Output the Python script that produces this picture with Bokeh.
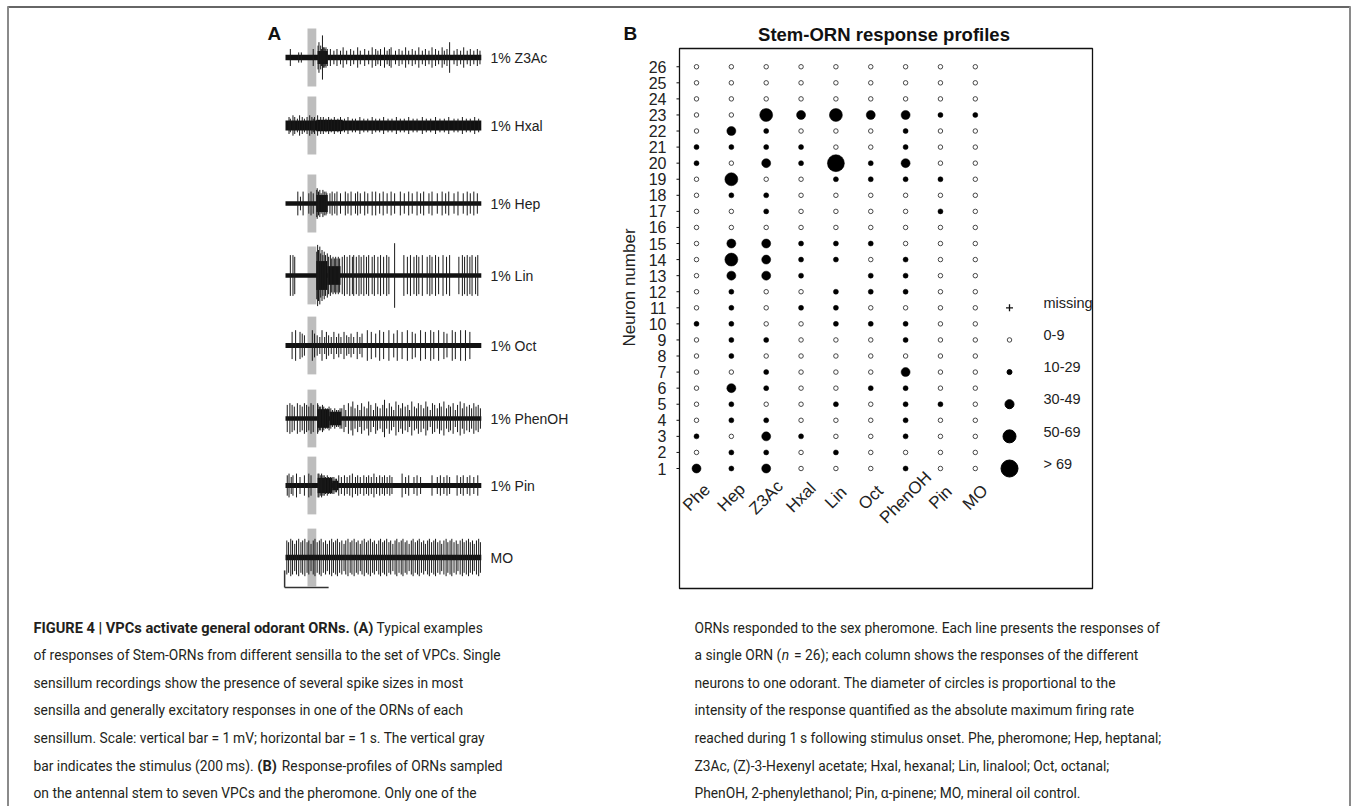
import math
from bokeh.plotting import figure
from bokeh.models import Range1d
from bokeh.core.properties import value
from bokeh.embed import file_html
from bokeh.resources import INLINE

# ============================ DATA ============================
# ---- Panel A : single-sensillum recordings ----
trace_labels = ["1% Z3Ac", "1% Hxal", "1% Hep", "1% Lin", "1% Oct", "1% PhenOH", "1% Pin", "MO"]
trace_duration_s = 4.45
stimulus_onset_s = 0.5
stimulus_duration_s = 0.2
scale_bar_mv = 1.0
scale_bar_s = 1.0
baseline_noise_mv = [0.16, 0.30, 0.13, 0.13, 0.15, 0.13, 0.14, 0.16]

# bursts: (start s, end s, half amplitude mV)
bursts_z3ac = [(0.73, 0.96, 0.38)]
bursts_hxal = [(0.70, 1.30, 0.34)]
bursts_hep = [(0.70, 0.96, 0.50)]
bursts_lin = [(0.70, 0.95, 0.85), (0.95, 1.25, 0.55)]
bursts_oct = []
bursts_phenoh = [(0.72, 1.00, 0.55), (1.00, 1.27, 0.40)]
bursts_pin = [(0.73, 1.06, 0.45), (1.06, 1.20, 0.28)]
bursts_mo = []

# spikes: (time s, amplitude in 0.1 mV)
spikes_z3ac = [(0.11, 5), (0.30, 3), (0.36, 3), (0.63, 5),
    (0.74, 7), (0.76, 9), (0.80, 7), (0.82, 5), (0.84, 13), (0.86, 6), (0.88, 6), (0.90, 5), (0.92, 6), (0.95, 5),
    (1.02, 5), (1.10, 4), (1.17, 5), (1.25, 4), (1.31, 6), (1.39, 4), (1.48, 5), (1.55, 4), (1.64, 6),
    (1.70, 4), (1.80, 5), (1.89, 4), (1.97, 6), (2.05, 5), (2.10, 4), (2.16, 5), (2.25, 6), (2.31, 4),
    (2.36, 5), (2.40, 6), (2.50, 4), (2.58, 5), (2.65, 4), (2.73, 6), (2.80, 4), (2.88, 5), (2.95, 4),
    (3.03, 6), (3.11, 4), (3.18, 5), (3.26, 4), (3.33, 6), (3.41, 5), (3.48, 4), (3.56, 6), (3.61, 4),
    (3.67, 5), (3.73, 9), (3.83, 4), (3.90, 5), (3.98, 4), (4.05, 6), (4.13, 4), (4.20, 5), (4.28, 4),
    (4.36, 5), (4.42, 4)]
spikes_hxal = [(0.08, 5), (0.11, 4), (0.17, 6), (0.21, 5), (0.27, 4), (0.32, 6), (0.38, 5), (0.43, 4),
    (0.49, 5), (0.55, 6), (0.60, 5), (0.63, 4), (0.66, 5),
    (0.73, 6), (0.80, 5), (0.86, 5), (0.92, 4), (0.98, 5), (1.04, 4), (1.11, 5), (1.19, 4), (1.25, 5),
    (1.34, 4), (1.42, 5), (1.52, 4), (1.59, 4), (1.69, 5), (1.78, 4), (1.87, 4), (1.97, 5), (2.05, 4),
    (2.14, 4), (2.23, 5), (2.33, 4), (2.42, 4), (2.52, 5), (2.61, 4), (2.70, 4), (2.80, 5), (2.90, 4),
    (2.99, 4), (3.11, 5), (3.20, 4), (3.30, 4), (3.41, 5), (3.51, 4), (3.61, 4), (3.71, 5), (3.83, 4),
    (3.92, 4), (4.02, 5), (4.11, 4), (4.20, 4), (4.30, 5), (4.39, 4)]
spikes_hep = [(0.28, 7), (0.34, 4), (0.40, 7), (0.53, 6), (0.58, 7), (0.63, 6),
    (0.71, 8), (0.72, 9), (0.75, 7), (0.78, 8), (0.81, 6), (0.85, 8), (0.88, 7), (0.92, 7), (0.94, 6),
    (1.01, 6), (1.06, 7), (1.12, 6), (1.17, 7), (1.25, 6), (1.36, 7), (1.42, 6), (1.49, 7), (1.59, 6),
    (1.64, 7), (1.70, 6), (1.80, 7), (1.87, 6), (1.97, 7), (2.05, 7), (2.14, 6), (2.22, 7), (2.31, 6),
    (2.40, 7), (2.48, 6), (2.61, 7), (2.70, 6), (2.80, 7), (2.88, 6), (2.99, 7), (3.07, 6), (3.14, 7),
    (3.26, 6), (3.33, 7), (3.45, 6), (3.56, 7), (3.64, 6), (3.71, 7), (3.83, 6), (3.92, 7), (4.04, 6),
    (4.13, 7), (4.20, 6), (4.28, 7), (4.36, 6)]
spikes_lin = [(0.11, 12), (0.17, 12), (0.21, 11),
    (0.71, 14), (0.73, 18), (0.75, 15), (0.78, 17), (0.80, 13), (0.83, 15), (0.85, 12), (0.88, 14),
    (0.91, 12), (0.95, 13), (0.98, 11), (1.02, 12), (1.05, 10), (1.08, 11), (1.11, 10), (1.14, 11),
    (1.17, 10), (1.20, 11), (1.23, 10),
    (1.29, 11), (1.34, 12), (1.40, 11), (1.46, 12), (1.52, 11), (1.55, 12), (1.61, 11), (1.67, 12),
    (1.72, 11), (1.78, 12), (1.84, 11), (1.89, 12), (1.97, 11), (2.02, 12), (2.10, 11), (2.16, 12),
    (2.23, 11), (2.30, 12), (2.35, 11), (2.48, 19), (2.69, 12), (2.77, 11), (2.84, 12), (2.92, 11),
    (2.98, 12), (3.03, 11), (3.11, 12), (3.22, 11), (3.28, 12), (3.33, 11), (3.41, 12), (3.48, 11),
    (3.58, 12), (3.66, 11), (3.73, 12), (3.94, 11), (4.02, 12), (4.07, 11), (4.13, 12), (4.19, 11),
    (4.24, 12), (4.32, 11), (4.37, 12)]
spikes_oct = [(0.15, 8), (0.23, 9), (0.33, 8), (0.38, 7), (0.43, 6), (0.61, 9), (0.66, 7),
    (0.72, 6), (0.78, 5), (0.83, 9), (0.89, 5), (0.93, 8), (0.98, 6), (1.04, 5), (1.10, 8), (1.16, 5),
    (1.21, 7), (1.26, 5), (1.33, 8), (1.39, 6), (1.44, 5), (1.49, 7), (1.55, 5), (1.63, 8), (1.69, 5),
    (1.74, 7), (1.86, 9), (1.95, 8), (2.05, 7), (2.14, 9), (2.23, 8), (2.35, 9), (2.46, 7), (2.54, 9),
    (2.65, 8), (2.77, 9), (2.88, 8), (2.95, 7), (3.07, 9), (3.18, 8), (3.30, 9), (3.37, 8), (3.48, 9),
    (3.60, 8), (3.67, 7), (3.79, 9), (3.86, 8), (3.98, 9), (4.09, 9), (4.19, 8)]
spikes_phenoh = [(0.04, 8), (0.10, 9), (0.15, 8), (0.20, 7), (0.27, 9), (0.33, 8), (0.38, 7), (0.43, 9),
    (0.48, 8), (0.53, 7), (0.58, 9), (0.63, 8),
    (0.73, 9), (0.74, 8), (0.77, 7), (0.80, 7), (0.84, 8), (0.87, 7), (0.91, 6), (0.95, 6), (0.99, 7),
    (1.03, 6), (1.07, 5), (1.12, 6), (1.16, 5), (1.20, 5), (1.24, 6),
    (1.28, 6), (1.33, 8), (1.37, 5), (1.43, 9), (1.49, 7), (1.53, 10), (1.58, 6), (1.64, 8), (1.69, 5),
    (1.73, 9), (1.79, 7), (1.85, 6), (1.89, 10), (1.94, 8), (2.00, 5), (2.05, 9), (2.09, 7), (2.15, 6),
    (2.21, 8), (2.25, 11), (2.30, 6), (2.36, 9), (2.41, 7), (2.46, 5), (2.51, 10), (2.57, 8), (2.62, 6),
    (2.66, 9), (2.72, 7), (2.78, 8), (2.82, 5), (2.87, 10), (2.93, 7), (2.98, 6), (3.02, 9), (3.08, 8),
    (3.14, 6), (3.19, 10), (3.23, 7), (3.29, 5), (3.34, 9), (3.39, 8), (3.45, 6), (3.50, 9), (3.54, 7),
    (3.60, 10), (3.66, 6), (3.71, 8), (3.75, 7), (3.81, 9), (3.86, 5), (3.91, 8), (3.97, 10), (4.02, 6),
    (4.06, 9), (4.12, 7), (4.18, 8), (4.23, 6), (4.28, 9), (4.33, 7), (4.38, 8), (4.43, 6)]
spikes_pin = [(0.04, 6), (0.08, 7), (0.13, 5), (0.17, 6), (0.25, 7), (0.33, 5), (0.43, 6), (0.53, 7), (0.58, 6),
    (0.74, 7), (0.76, 7), (0.79, 6), (0.82, 7), (0.85, 6), (0.88, 6), (0.91, 5), (0.95, 6), (0.98, 5),
    (1.02, 5), (1.06, 5), (1.10, 5), (1.13, 4), (1.16, 4),
    (1.21, 6), (1.27, 5), (1.34, 6), (1.40, 5), (1.46, 6), (1.52, 7), (1.59, 5), (1.64, 6), (1.70, 5),
    (1.78, 6), (1.84, 5), (1.89, 6), (1.95, 5), (2.01, 7), (2.07, 5), (2.14, 6), (2.20, 5), (2.25, 6),
    (2.31, 5), (2.37, 6), (2.42, 5), (2.65, 7), (2.73, 5), (2.80, 6), (2.92, 5), (2.99, 6), (3.07, 5),
    (3.33, 6), (3.45, 5), (3.52, 6), (3.60, 5), (3.67, 6), (3.73, 5), (3.90, 6), (3.98, 5), (4.04, 6),
    (4.13, 5), (4.19, 6), (4.28, 5), (4.37, 6)]
spikes_mo = [(0.03, 10), (0.07, 9), (0.12, 11), (0.16, 10), (0.21, 8), (0.25, 10), (0.30, 11), (0.35, 9),
    (0.39, 10), (0.44, 11), (0.49, 9), (0.53, 10), (0.58, 8), (0.63, 10), (0.67, 11), (0.72, 9), (0.77, 10),
    (0.81, 11), (0.86, 9), (0.91, 10), (0.95, 8), (1.00, 10), (1.05, 11), (1.09, 9), (1.14, 10), (1.18, 11),
    (1.23, 9), (1.28, 10), (1.33, 8), (1.37, 10), (1.42, 11), (1.47, 9), (1.51, 10), (1.56, 11), (1.61, 9),
    (1.65, 10), (1.70, 8), (1.74, 10), (1.79, 11), (1.84, 9), (1.88, 10), (1.93, 11), (1.98, 9), (2.02, 10),
    (2.07, 8), (2.12, 10), (2.16, 11), (2.21, 9), (2.25, 10), (2.30, 11), (2.35, 9), (2.39, 10), (2.44, 8),
    (2.49, 10), (2.53, 11), (2.58, 9), (2.63, 10), (2.67, 11), (2.72, 9), (2.76, 10), (2.81, 8), (2.86, 10),
    (2.90, 11), (2.95, 9), (3.00, 10), (3.04, 11), (3.09, 9), (3.14, 10), (3.18, 8), (3.23, 10), (3.27, 11),
    (3.32, 9), (3.37, 10), (3.41, 11), (3.46, 9), (3.51, 10), (3.55, 8), (3.60, 10), (3.65, 11), (3.69, 9),
    (3.74, 10), (3.78, 11), (3.83, 9), (3.88, 10), (3.92, 8), (3.97, 10), (4.02, 11), (4.06, 9), (4.11, 10),
    (4.16, 11), (4.20, 9), (4.25, 10), (4.29, 8), (4.34, 10), (4.39, 11), (4.43, 9)]

spikes_all = [spikes_z3ac, spikes_hxal, spikes_hep, spikes_lin, spikes_oct, spikes_phenoh, spikes_pin, spikes_mo]
bursts_all = [bursts_z3ac, bursts_hxal, bursts_hep, bursts_lin, bursts_oct, bursts_phenoh, bursts_pin, bursts_mo]

# ---- Panel B : response classes (-1 missing, 0: 0-9, 1: 10-29, 2: 30-49, 3: 50-69, 4: >69) ----
odorants = ["Phe", "Hep", "Z3Ac", "Hxal", "Lin", "Oct", "PhenOH", "Pin", "MO"]
neuron_numbers = list(range(1, 27))
resp_phe    = [2,0,1,0,0,0,0,0,0,1,0,0,0,0,0,0,0,0,0,1,1,0,0,0,0,0]
resp_hep    = [1,1,0,1,1,2,0,1,1,1,1,1,2,3,2,0,0,1,3,0,1,2,0,0,0,0]
resp_z3ac   = [2,1,2,1,0,1,1,0,1,0,0,0,2,2,2,0,1,1,0,2,1,1,3,0,0,0]
resp_hxal   = [0,0,1,0,0,0,0,0,0,0,1,0,1,1,1,0,0,0,0,1,1,0,2,0,0,0]
resp_lin    = [0,1,0,0,1,0,0,0,0,1,1,1,-1,1,1,0,0,0,1,4,0,0,3,0,0,0]
resp_oct    = [0,0,0,0,0,1,0,0,0,1,0,1,1,0,1,0,0,0,1,1,0,0,2,0,0,0]
resp_phenoh = [1,0,1,1,1,1,2,0,1,1,0,1,1,1,0,0,0,0,1,2,1,1,2,0,0,0]
resp_pin    = [0,0,0,0,1,0,0,0,0,0,0,0,0,0,0,0,1,0,1,0,0,0,1,0,0,0]
resp_mo     = [0,0,0,0,0,0,0,0,0,0,0,0,0,0,0,0,0,0,0,0,0,0,1,0,0,0]
responses = [resp_phe, resp_hep, resp_z3ac, resp_hxal, resp_lin, resp_oct, resp_phenoh, resp_pin, resp_mo]
legend_labels = ["missing", "0-9", "10-29", "30-49", "50-69", "> 69"]
legend_classes = [-1, 0, 1, 2, 3, 4]

# ---- Caption ----
caption_left = [
    [("FIGURE 4 | VPCs activate general odorant ORNs. (A)", "bold"), (" Typical examples", "normal")],
    [("of responses of Stem-ORNs from different sensilla to the set of VPCs. Single", "normal")],
    [("sensillum recordings show the presence of several spike sizes in most", "normal")],
    [("sensilla and generally excitatory responses in one of the ORNs of each", "normal")],
    [("sensillum. Scale: vertical bar = 1\u2009mV; horizontal bar = 1\u2009s. The vertical gray", "normal")],
    [("bar indicates the stimulus (200\u2009ms). ", "normal"), ("(B)", "bold"), (" Response-profiles of ORNs sampled", "normal")],
    [("on the antennal stem to seven VPCs and the pheromone. Only one of the", "normal")],
]
caption_right = [
    [("ORNs responded to the sex pheromone. Each line presents the responses of", "normal")],
    [("a single ORN (", "normal"), ("n", "italic"), (" = 26); each column shows the responses of the different", "normal")],
    [("neurons to one odorant. The diameter of circles is proportional to the", "normal")],
    [("intensity of the response quantified as the absolute maximum firing rate", "normal")],
    [("reached during 1\u2009s following stimulus onset. Phe, pheromone; Hep, heptanal;", "normal")],
    [("Z3Ac, (Z)-3-Hexenyl acetate; Hxal, hexanal; Lin, linalool; Oct, octanal;", "normal")],
    [("PhenOH, 2-phenylethanol; Pin, \u03b1-pinene; MO, mineral oil control.", "normal")],
]

# ============================ LAYOUT (page pixels) ============================
FIG_W, FIG_H = 1357, 806
X0, Y0 = 0, 0
X1, Y1 = X0 + FIG_W, Y0 + FIG_H

# panel A
TRACE_X0 = 285.0
PX_PER_S = 44.0
PX_PER_MV = 17.0
TRACE_Y = [57, 125, 203, 275, 345, 418, 485, 557]
STIM_HALF_MV = 1.7
TRACE_LABEL_X = 490
SCALE_GAP_MV = 1.76

# panel B
COL_X0, COL_DX = 696.0, 34.85
ROW1_Y, ROW_DY = 468.0, 16.07
LEG_SYM_X, LEG_LAB_X = 1009, 1043
FRAME_B = (679, 1092, 48, 588)

CHART_FONT = "Liberation Sans"
CAP_FONT = "Roboto"
CAP_SIZE = 13.8
CAP_BOLD_SIZE = 14.6
BOLD_FAC = 1.02
SEG_GAP = 1.5
CAP_Y0, CAP_DY = 627.0, 27.6
CAP_LEFT_X, CAP_RIGHT_X = 33, 694
CAP_COLOR = "#231f20"


def xr(v, px, s):
    return Range1d(v - (px - X0) / s, v + (X1 - px) / s)


def yr(v, py, s):
    return Range1d(v - (Y1 - py) / s, v + (py - Y0) / s)


p = figure(width=FIG_W, height=FIG_H, x_range=Range1d(X0, X1), y_range=Range1d(Y1, Y0),
           output_backend="svg", toolbar_location=None, min_border=0,
           x_axis_location=None, y_axis_location=None)
p.outline_line_color = None
p.background_fill_color = "white"
p.border_fill_color = "white"
p.xgrid.visible = False
p.ygrid.visible = False
p.extra_x_ranges = {"ax": xr(0.0, TRACE_X0, PX_PER_S), "bx": xr(0.0, COL_X0, COL_DX)}
p.extra_y_ranges = {"ay": yr(0.0, 0.0, PX_PER_MV), "by": yr(1.0, ROW1_Y, ROW_DY)}

# ---- page frame ----
p.segment(x0=[7, 7.5, 1349.5], y0=[6.5, 6, 6], x1=[1350, 7.5, 1349.5], y1=[6.5, 806, 806],
          line_color=["#333333", "#8a8a8a", "#8a8a8a"], line_width=[1.5, 2, 2])

# ============================ PANEL A ============================
offsets = [-y / PX_PER_MV for y in TRACE_Y]
p.quad(left=[stimulus_onset_s] * len(offsets), right=[stimulus_onset_s + stimulus_duration_s] * len(offsets),
       bottom=[o - STIM_HALF_MV for o in offsets], top=[o + STIM_HALF_MV for o in offsets],
       fill_color="#bdbdbd", line_color=None, x_range_name="ax", y_range_name="ay")
ql, qr_, qb, qt = [], [], [], []
for off, noise, bursts in zip(offsets, baseline_noise_mv, bursts_all):
    ql.append(0.0); qr_.append(trace_duration_s); qb.append(off - noise); qt.append(off + noise)
    for (b0, b1, h) in bursts:
        ql.append(b0); qr_.append(b1); qb.append(off - h); qt.append(off + h)
p.quad(left=ql, right=qr_, bottom=qb, top=qt, fill_color="#111111", line_color=None,
       x_range_name="ax", y_range_name="ay")
sx, sy0, sy1 = [], [], []
for off, spikes in zip(offsets, spikes_all):
    for (t, a) in spikes:
        sx.append(t); sy0.append(off - a / 10.0); sy1.append(off + a / 10.0)
p.segment(x0=sx, x1=sx, y0=sy0, y1=sy1, line_color="#1a1a1a", line_width=1,
          x_range_name="ax", y_range_name="ay")
sb_base = offsets[-1] - SCALE_GAP_MV
p.segment(x0=[-0.02, -0.02], y0=[sb_base, sb_base], x1=[-0.02, -0.02 + scale_bar_s], y1=[sb_base + scale_bar_mv, sb_base],
          line_color="#333333", line_width=1.5, x_range_name="ax", y_range_name="ay")
p.text(x=[TRACE_LABEL_X] * len(trace_labels), y=TRACE_Y, text=trace_labels,
       text_font=value(CHART_FONT), text_font_size="14px", text_color="#222222",
       text_align="left", text_baseline="middle")
p.text(x=[267], y=[33], text=["A"], text_font=value(CHART_FONT), text_font_size="19px",
       text_font_style="bold", text_align="left", text_baseline="middle", text_color="#111111")

# ============================ PANEL B ============================
fl, fr, ft, fb = FRAME_B
p.quad(left=[fl], right=[fr], top=[ft], bottom=[fb], fill_color=None, line_color="#111111", line_width=1.3)
p.text(x=[623], y=[33], text=["B"], text_font=value(CHART_FONT), text_font_size="19px",
       text_font_style="bold", text_align="left", text_baseline="middle", text_color="#111111")
p.text(x=[(fl + fr) / 2 - 2], y=[34], text=["Stem-ORN response profiles"], text_font=value(CHART_FONT),
       text_font_size="18.5px", text_font_style="bold", text_align="center", text_baseline="middle",
       text_color="#111111")
p.segment(x0=[fl - 3] * len(neuron_numbers), x1=[fl] * len(neuron_numbers), y0=neuron_numbers, y1=neuron_numbers,
          line_color="#111111", line_width=1, y_range_name="by")
p.text(x=[666] * len(neuron_numbers), y=neuron_numbers, text=[str(n) for n in neuron_numbers],
       text_font=value(CHART_FONT), text_font_size="16px", text_align="right", text_baseline="middle",
       text_color="#222222", y_range_name="by")
p.text(x=[629], y=[287], text=["Neuron number"], angle=math.pi / 2, text_font=value(CHART_FONT),
       text_font_size="17px", text_align="center", text_baseline="middle", text_color="#222222")
p.text(x=list(range(len(odorants))), y=[497] * len(odorants), text=odorants, angle=math.pi / 4,
       text_font=value(CHART_FONT), text_font_size="17px", text_align="center", text_baseline="middle",
       text_color="#222222", x_range_name="bx")

CLASS_SIZE = {0: 4.5, 1: 5.0, 2: 9.0, 3: 13.0, 4: 17.0}
ox, oy, fx, fy, fs = [], [], [], [], []
for j, col in enumerate(responses):
    for n, c in zip(neuron_numbers, col):
        if c < 0:
            continue
        if c == 0:
            ox.append(j); oy.append(n)
        else:
            fx.append(j); fy.append(n); fs.append(CLASS_SIZE[c])
p.scatter(x=ox, y=oy, size=4.5, marker="circle", fill_color="white", line_color="#333333", line_width=0.9,
          x_range_name="bx", y_range_name="by")
p.scatter(x=fx, y=fy, size=fs, marker="circle", fill_color="#000000", line_color="#000000", line_width=0.5,
          x_range_name="bx", y_range_name="by")

leg_rows = [11 - 2 * i for i in range(len(legend_labels))]
for r, c in zip(leg_rows, legend_classes):
    if c < 0:
        p.scatter(x=[LEG_SYM_X], y=[r], marker="cross", size=7, line_color="#111111", line_width=1.3,
                  y_range_name="by")
    elif c == 0:
        p.scatter(x=[LEG_SYM_X], y=[r], marker="circle", size=4.5, fill_color="white", line_color="#333333",
                  line_width=0.9, y_range_name="by")
    else:
        p.scatter(x=[LEG_SYM_X], y=[r], marker="circle", size=CLASS_SIZE[c], fill_color="#000000",
                  line_color="#000000", y_range_name="by")
p.text(x=[LEG_LAB_X] * len(legend_labels), y=[r + 0.3 for r in leg_rows], text=legend_labels,
       text_font=value(CHART_FONT), text_font_size="14.5px", text_align="left", text_baseline="middle",
       text_color="#222222", y_range_name="by")

# ============================ CAPTION ============================
# approximate Roboto advance widths (em/1000) used only to place mixed-style segments
_W = {" ": 248, "\u2009": 420, ".": 263, ",": 196, ";": 212, ":": 242, "|": 243, "(": 342, ")": 348,
      "-": 276, "=": 549, "a": 531, "b": 547, "c": 510, "d": 550, "e": 517, "f": 340, "g": 548, "h": 538,
      "i": 237, "j": 233, "k": 496, "l": 237, "m": 855, "n": 539, "o": 556, "p": 547, "q": 552, "r": 331,
      "s": 503, "t": 319, "u": 537, "v": 473, "w": 733, "x": 484, "y": 462, "z": 484,
      "A": 652, "B": 623, "C": 651, "D": 656, "E": 568, "F": 552, "G": 681, "H": 713, "I": 272, "N": 713,
      "O": 688, "P": 632, "R": 615, "S": 595, "T": 597, "U": 648, "V": 636, "Z": 599}


def text_w(s, size, bold=False):
    return sum(_W.get(ch, 562) for ch in s) / 1000.0 * size * (BOLD_FAC if bold else 1.0)


def draw_line(x, y, segments):
    for k, (txt, style) in enumerate(segments):
        size = CAP_BOLD_SIZE if style == "bold" else CAP_SIZE
        lead = len(txt) - len(txt.lstrip(" "))
        trail = len(txt) - len(txt.rstrip(" "))
        core = txt.strip(" ")
        x += lead * text_w(" ", CAP_SIZE) + (SEG_GAP if k > 0 else 0)
        p.text(x=[x], y=[y], text=[core], text_font=value(CAP_FONT), text_font_size=f"{size}px",
               text_font_style=style, text_align="left", text_baseline="middle", text_color=CAP_COLOR)
        x += text_w(core, size, style == "bold") + trail * text_w(" ", CAP_SIZE)


for i, segs in enumerate(caption_left):
    draw_line(CAP_LEFT_X, CAP_Y0 + i * CAP_DY, segs)
for i, segs in enumerate(caption_right):
    draw_line(CAP_RIGHT_X, CAP_Y0 + i * CAP_DY, segs)

open("out.html", "w").write(file_html(p, INLINE))
